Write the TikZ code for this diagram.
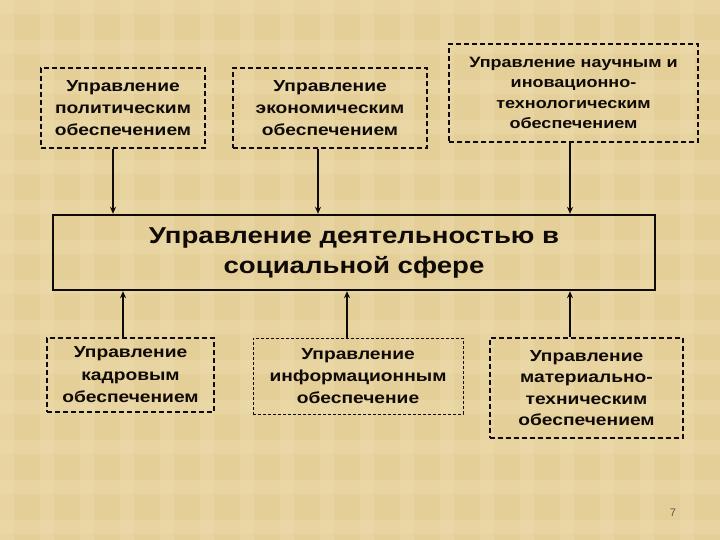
\documentclass[tikz,border=0pt]{standalone}
\usepackage{fontspec}
\setmainfont{Liberation Sans}
\newfontfamily\widefont[FakeStretch=1.2]{Liberation Sans}
\usetikzlibrary{arrows.meta}
\definecolor{paper}{RGB}{228,207,152}
\definecolor{paperlight}{RGB}{238,222,175}
\definecolor{ink}{RGB}{15,10,6}
\tikzset{
  dbox/.style={draw=ink, line width=1.8pt, dash pattern=on 5pt off 3pt, inner sep=0pt, align=center, font=\widefont\bfseries\fontsize{16}{22}\selectfont, text=ink},
  thinbox/.style={draw=ink, line width=0.9pt, dash pattern=on 3pt off 2pt, inner sep=0pt, align=center, font=\widefont\bfseries\fontsize{16}{22}\selectfont, text=ink},
  mainbox/.style={draw=ink, line width=2.4pt, inner sep=0pt, align=center, font=\widefont\bfseries\fontsize{23}{30}\selectfont, text=ink},
  arr/.style={draw=ink, line width=1.8pt, -{Stealth[length=7pt,width=6pt]}}
}
\begin{document}
\begin{tikzpicture}[x=1pt,y=-1pt]
\useasboundingbox (0,0) rectangle (720,540);
\fill[paper] (0,0) rectangle (720,540);
\begin{scope}
\clip (0,0) rectangle (720,540);
\foreach \i in {0,40,...,720} {\fill[paperlight,opacity=0.35] (\i,0) rectangle (\i+14,540);}
\foreach \j in {0,40,...,540} {\fill[paperlight,opacity=0.35] (0,\j) rectangle (720,\j+14);}
\end{scope}

\node[dbox, minimum width=164pt, minimum height=80pt] (t1) at (123,108) {Управление\\политическим\\обеспечением};
\node[dbox, minimum width=194pt, minimum height=80pt] (t2) at (330,108) {Управление\\экономическим\\обеспечением};
\node[dbox, minimum width=249pt, minimum height=98pt, font=\widefont\bfseries\fontsize{15}{20.5}\selectfont] (t3) at (573.5,93) {Управление научным и\\иновационно-\\технологическим\\обеспечением};

\node[mainbox, minimum width=602pt, minimum height=75pt] (m) at (354,252.5) {Управление деятельностью в\\социальной сфере};

\node[dbox, minimum width=167pt, minimum height=74pt, font=\widefont\bfseries\fontsize{16}{22.5}\selectfont] (b1) at (130.5,375) {Управление\\кадровым\\обеспечением};
\node[thinbox, minimum width=210pt, minimum height=76pt] (b2) at (358,376) {Управление\\информационным\\обеспечение};
\node[dbox, minimum width=193pt, minimum height=100pt, font=\widefont\bfseries\fontsize{16}{21.5}\selectfont] (b3) at (586.5,388) {Управление\\материально-\\техническим\\обеспечением};

\coordinate (x1) at (113,0);
\coordinate (x2) at (318,0);
\coordinate (x3) at (570,0);
\coordinate (y1) at (123,0);
\coordinate (y2) at (347,0);

\draw[arr] (t1.south -| x1) -- (m.north -| x1);
\draw[arr] (t2.south -| x2) -- (m.north -| x2);
\draw[arr] (t3.south -| x3) -- (m.north -| x3);
\draw[arr] (b1.north -| y1) -- (m.south -| y1);
\draw[arr] (b2.north -| y2) -- (m.south -| y2);
\draw[arr] (b3.north -| x3) -- (m.south -| x3);

\node[text=gray!70!black, font=\fontsize{11}{12}\selectfont] (pg) at (673,513) {7};
\end{tikzpicture}
\end{document}
